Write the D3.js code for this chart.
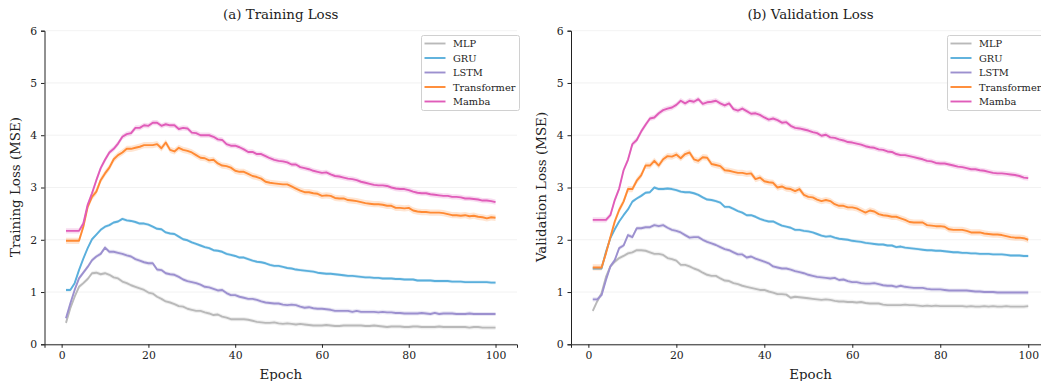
<!DOCTYPE html>
<html>
<head>
<meta charset="utf-8">
<title>Training and Validation Loss</title>
<style>
  body { margin: 0; background: #fff; }
  svg text { font-family: "DejaVu Serif", serif; fill: #222; }
  .tick text { font-size: 10.8px; }
  .grid line { stroke: #efefef; stroke-width: 0.8; }
</style>
</head>
<body>
<div id="chart"></div>
<script src="https://cdn.jsdelivr.net/npm/d3@7"></script>
<script>
// epochs 1..100
var epochs = d3.range(1, 101);
var models = ["MLP", "GRU", "LSTM", "Transformer", "Mamba"];
var colors = ["#b9b9b9", "#5aafdc", "#9c90cf", "#ff8a33", "#e05cb9"];
var yTicks = [0, 1, 2, 3, 4, 5, 6];
var xTicks = [0, 20, 40, 60, 80, 100];

// training loss
var trainMLP = [0.41,0.69,0.91,1.10,1.17,1.25,1.36,1.37,1.34,1.36,1.33,1.28,1.26,1.20,1.17,1.13,1.10,1.07,1.04,0.99,
  0.97,0.91,0.87,0.82,0.80,0.77,0.73,0.72,0.68,0.66,0.64,0.64,0.61,0.59,0.56,0.57,0.53,0.51,0.48,0.48,
  0.48,0.48,0.47,0.45,0.43,0.42,0.41,0.41,0.42,0.40,0.39,0.40,0.39,0.38,0.39,0.38,0.37,0.36,0.36,0.36,
  0.37,0.36,0.35,0.35,0.36,0.36,0.36,0.36,0.36,0.35,0.35,0.36,0.35,0.34,0.33,0.34,0.34,0.34,0.33,0.33,
  0.34,0.34,0.33,0.33,0.33,0.33,0.34,0.33,0.33,0.33,0.33,0.33,0.33,0.32,0.33,0.33,0.32,0.32,0.32,0.32];
var trainGRU = [1.04,1.04,1.17,1.42,1.64,1.84,2.01,2.10,2.19,2.25,2.28,2.33,2.35,2.40,2.37,2.36,2.34,2.31,2.31,2.29,
  2.25,2.21,2.20,2.14,2.12,2.11,2.06,2.01,1.99,1.95,1.92,1.89,1.86,1.84,1.80,1.79,1.77,1.73,1.71,1.69,
  1.66,1.66,1.63,1.60,1.58,1.57,1.55,1.52,1.50,1.50,1.48,1.46,1.45,1.43,1.42,1.41,1.40,1.39,1.37,1.36,
  1.35,1.35,1.34,1.33,1.32,1.31,1.31,1.30,1.29,1.28,1.28,1.27,1.27,1.26,1.26,1.26,1.25,1.25,1.24,1.24,
  1.24,1.22,1.22,1.22,1.22,1.21,1.21,1.21,1.21,1.20,1.20,1.20,1.19,1.19,1.19,1.19,1.19,1.19,1.18,1.18];
var trainLSTM = [0.50,0.78,1.04,1.26,1.37,1.48,1.61,1.68,1.73,1.85,1.77,1.77,1.75,1.73,1.70,1.68,1.63,1.60,1.57,1.55,
  1.55,1.43,1.42,1.36,1.34,1.33,1.29,1.24,1.21,1.19,1.17,1.14,1.10,1.09,1.06,1.03,1.04,0.98,0.94,0.94,
  0.91,0.89,0.87,0.87,0.85,0.82,0.80,0.79,0.78,0.78,0.76,0.75,0.76,0.75,0.72,0.70,0.71,0.69,0.68,0.68,
  0.67,0.66,0.64,0.64,0.64,0.64,0.62,0.64,0.62,0.62,0.62,0.62,0.61,0.62,0.61,0.61,0.60,0.60,0.59,0.59,
  0.59,0.59,0.60,0.59,0.58,0.60,0.58,0.59,0.59,0.59,0.58,0.58,0.58,0.59,0.58,0.58,0.58,0.58,0.58,0.58];
var trainTransformer = [1.98,1.98,1.98,1.98,2.25,2.63,2.82,2.92,3.14,3.27,3.38,3.54,3.62,3.67,3.74,3.74,3.76,3.78,3.81,3.81,
  3.81,3.83,3.75,3.86,3.72,3.69,3.76,3.72,3.70,3.67,3.62,3.57,3.56,3.52,3.53,3.46,3.42,3.41,3.38,3.32,
  3.30,3.30,3.26,3.22,3.20,3.17,3.11,3.09,3.08,3.07,3.06,3.06,3.02,2.98,2.94,2.91,2.91,2.89,2.88,2.84,
  2.85,2.84,2.80,2.79,2.79,2.76,2.75,2.74,2.72,2.70,2.69,2.68,2.68,2.67,2.65,2.65,2.61,2.61,2.60,2.61,
  2.56,2.54,2.53,2.53,2.52,2.52,2.52,2.51,2.49,2.47,2.47,2.46,2.47,2.45,2.46,2.44,2.43,2.41,2.43,2.42];
var trainMamba = [2.17,2.17,2.17,2.17,2.31,2.67,2.89,3.14,3.37,3.53,3.67,3.74,3.84,3.97,4.02,4.04,4.14,4.14,4.19,4.18,
  4.24,4.24,4.18,4.21,4.19,4.19,4.12,4.14,4.13,4.05,4.04,4.00,4.00,4.00,3.97,3.92,3.91,3.83,3.80,3.80,
  3.77,3.73,3.68,3.68,3.64,3.64,3.60,3.56,3.53,3.51,3.50,3.48,3.44,3.44,3.39,3.37,3.35,3.32,3.30,3.28,
  3.29,3.25,3.22,3.21,3.19,3.17,3.16,3.14,3.11,3.09,3.07,3.05,3.04,3.04,3.03,3.00,2.98,2.97,2.97,2.95,
  2.92,2.90,2.89,2.89,2.87,2.86,2.85,2.84,2.84,2.82,2.82,2.81,2.79,2.79,2.78,2.77,2.75,2.75,2.74,2.72];

// validation loss
var valMLP = [0.64,0.82,0.98,1.29,1.49,1.58,1.65,1.69,1.74,1.76,1.80,1.80,1.79,1.76,1.73,1.73,1.71,1.65,1.63,1.60,
  1.52,1.52,1.49,1.45,1.42,1.37,1.33,1.31,1.31,1.26,1.22,1.21,1.17,1.15,1.12,1.10,1.08,1.06,1.04,1.04,
  1.01,0.99,0.96,0.96,0.95,0.89,0.91,0.90,0.89,0.88,0.87,0.86,0.85,0.86,0.85,0.83,0.82,0.82,0.81,0.81,
  0.80,0.81,0.79,0.78,0.78,0.78,0.76,0.75,0.75,0.75,0.75,0.76,0.75,0.75,0.74,0.73,0.74,0.73,0.74,0.73,
  0.73,0.73,0.73,0.73,0.73,0.72,0.73,0.72,0.72,0.73,0.72,0.73,0.72,0.72,0.73,0.72,0.72,0.72,0.72,0.73];
var valGRU = [1.45,1.45,1.45,1.77,2.03,2.20,2.35,2.47,2.58,2.73,2.79,2.84,2.90,2.91,3.00,2.97,2.97,2.98,2.97,2.95,
  2.92,2.91,2.91,2.89,2.86,2.81,2.77,2.76,2.74,2.71,2.63,2.63,2.59,2.55,2.52,2.47,2.47,2.44,2.40,2.37,
  2.35,2.35,2.31,2.27,2.25,2.23,2.19,2.19,2.17,2.16,2.14,2.11,2.08,2.06,2.07,2.04,2.02,2.01,2.00,1.98,
  1.97,1.96,1.94,1.93,1.92,1.91,1.91,1.89,1.89,1.86,1.87,1.85,1.84,1.83,1.82,1.81,1.80,1.80,1.79,1.79,
  1.78,1.77,1.76,1.76,1.75,1.75,1.74,1.74,1.73,1.73,1.73,1.72,1.72,1.72,1.71,1.70,1.70,1.70,1.69,1.69];
var valLSTM = [0.86,0.86,0.94,1.23,1.49,1.61,1.84,1.89,2.09,2.05,2.22,2.22,2.24,2.24,2.28,2.26,2.28,2.23,2.19,2.17,
  2.14,2.09,2.04,2.05,2.05,2.00,1.96,1.93,1.90,1.86,1.82,1.80,1.76,1.72,1.72,1.66,1.68,1.64,1.61,1.58,
  1.55,1.49,1.47,1.45,1.45,1.43,1.40,1.38,1.36,1.33,1.31,1.29,1.28,1.27,1.26,1.27,1.23,1.24,1.21,1.19,
  1.19,1.17,1.16,1.16,1.17,1.15,1.13,1.12,1.12,1.10,1.12,1.10,1.09,1.08,1.08,1.08,1.06,1.05,1.05,1.05,
  1.04,1.03,1.03,1.03,1.03,1.03,1.02,1.01,1.01,1.00,1.00,1.00,0.99,0.99,0.99,0.99,0.99,0.99,0.99,0.99];
var valTransformer = [1.47,1.47,1.47,1.74,2.05,2.35,2.57,2.73,2.97,2.97,3.13,3.23,3.42,3.42,3.51,3.42,3.54,3.60,3.59,3.63,
  3.56,3.64,3.67,3.54,3.51,3.58,3.57,3.45,3.43,3.41,3.33,3.32,3.30,3.28,3.28,3.26,3.27,3.16,3.19,3.12,
  3.10,3.09,3.00,3.02,2.98,2.97,2.93,2.97,2.86,2.82,2.81,2.77,2.74,2.76,2.74,2.68,2.65,2.65,2.62,2.62,
  2.60,2.56,2.52,2.56,2.54,2.49,2.47,2.46,2.44,2.44,2.41,2.38,2.34,2.33,2.33,2.33,2.28,2.27,2.26,2.26,
  2.25,2.20,2.19,2.19,2.19,2.17,2.14,2.14,2.14,2.12,2.11,2.10,2.10,2.09,2.07,2.05,2.04,2.04,2.03,2.00];
var valMamba = [2.38,2.38,2.38,2.38,2.47,2.76,2.98,3.33,3.53,3.83,3.91,4.07,4.20,4.32,4.34,4.42,4.48,4.51,4.53,4.58,
  4.66,4.61,4.66,4.64,4.69,4.60,4.63,4.64,4.66,4.61,4.57,4.61,4.50,4.47,4.51,4.46,4.41,4.42,4.39,4.34,
  4.30,4.32,4.29,4.24,4.25,4.18,4.14,4.13,4.11,4.09,4.06,4.04,3.99,4.01,3.96,3.95,3.92,3.90,3.87,3.86,
  3.84,3.82,3.79,3.77,3.76,3.73,3.72,3.69,3.68,3.64,3.62,3.62,3.60,3.58,3.56,3.54,3.51,3.50,3.47,3.46,
  3.46,3.44,3.42,3.40,3.39,3.37,3.35,3.35,3.33,3.32,3.30,3.28,3.27,3.27,3.26,3.25,3.24,3.22,3.19,3.18];

// half-width of the shaded band, per model
var trainBand = [0.04, 0.03, 0.04, 0.06, 0.05];
var valBand = [0.04, 0.03, 0.04, 0.06, 0.05];

var W = 1041, H = 381;
var svg = d3.select("#chart").append("svg").attr("width", W).attr("height", H);

function drawPanel(p) {
  var x = d3.scaleLinear().domain([-3.95, 104.95]).range([p.left, p.right]);
  var y = d3.scaleLinear().domain([0, 6]).range([344.3, 30.7]);
  var g = svg.append("g");

  // faint horizontal grid
  g.append("g").attr("class", "grid")
    .selectAll("line").data(yTicks).enter().append("line")
    .attr("x1", p.left).attr("x2", p.right)
    .attr("y1", function(d) { return y(d); })
    .attr("y2", function(d) { return y(d); });

  var area = d3.area()
    .x(function(d) { return x(d.e); })
    .y0(function(d) { return y(d.v - d.b); })
    .y1(function(d) { return y(d.v + d.b); });
  var line = d3.line()
    .x(function(d) { return x(d.e); })
    .y(function(d) { return y(d.v); });

  p.series.forEach(function(vals, i) {
    var pts = vals.map(function(v, k) { return {e: epochs[k], v: v, b: p.band[i]}; });
    g.append("path").attr("d", area(pts))
      .attr("fill", colors[i]).attr("opacity", 0.22);
    g.append("path").attr("d", line(pts))
      .attr("fill", "none").attr("stroke", colors[i])
      .attr("stroke-width", 1.9).attr("stroke-linejoin", "round");
  });

  g.append("g").attr("transform", "translate(0,344.3)")
    .call(d3.axisBottom(x).tickValues(xTicks).tickSizeOuter(0).tickSize(3.5).tickPadding(4));
  g.append("g").attr("transform", "translate(" + p.left + ",0)")
    .call(d3.axisLeft(y).tickValues(yTicks).tickFormat(d3.format("d"))
      .tickSizeOuter(0).tickSize(3.5).tickPadding(4));
  g.selectAll(".domain, .tick line").attr("stroke", "#222").attr("stroke-width", 1);
  g.selectAll(".tick text").attr("fill", "#222");

  g.append("text").attr("x", (p.left + p.right) / 2).attr("y", 19)
    .attr("text-anchor", "middle").style("font-size", "13.4px").text(p.title);
  g.append("text").attr("x", (p.left + p.right) / 2).attr("y", 378.5)
    .attr("text-anchor", "middle").style("font-size", "13.4px").text("Epoch");
  g.append("text")
    .attr("transform", "translate(" + p.ylabX + ",187) rotate(-90)")
    .attr("text-anchor", "middle").style("font-size", "13.4px").text(p.ylabel);

  // legend
  var lg = g.append("g").attr("transform", "translate(" + p.legX + ",35.5)");
  lg.append("rect").attr("width", 98).attr("height", 75).attr("rx", 2)
    .attr("fill", "#fff").attr("fill-opacity", 0.85)
    .attr("stroke", "#d0d0d0").attr("stroke-width", 1);
  models.forEach(function(m, i) {
    var yy = 8 + i * 14.5;
    lg.append("line").attr("x1", 3).attr("x2", 24).attr("y1", yy).attr("y2", yy)
      .attr("stroke", colors[i]).attr("stroke-width", 1.9);
    lg.append("text").attr("x", 31.5).attr("y", yy + 3.5)
      .style("font-size", "9.8px").text(m);
  });
}

drawPanel({left: 44.5, right: 517, title: "(a) Training Loss", ylabel: "Training Loss (MSE)",
  ylabX: 20, legX: 421.5, band: trainBand,
  series: [trainMLP, trainGRU, trainLSTM, trainTransformer, trainMamba]});
drawPanel({left: 571, right: 1050, title: "(b) Validation Loss", ylabel: "Validation Loss (MSE)",
  ylabX: 546, legX: 947.5, band: valBand,
  series: [valMLP, valGRU, valLSTM, valTransformer, valMamba]});
</script>
</body>
</html>
